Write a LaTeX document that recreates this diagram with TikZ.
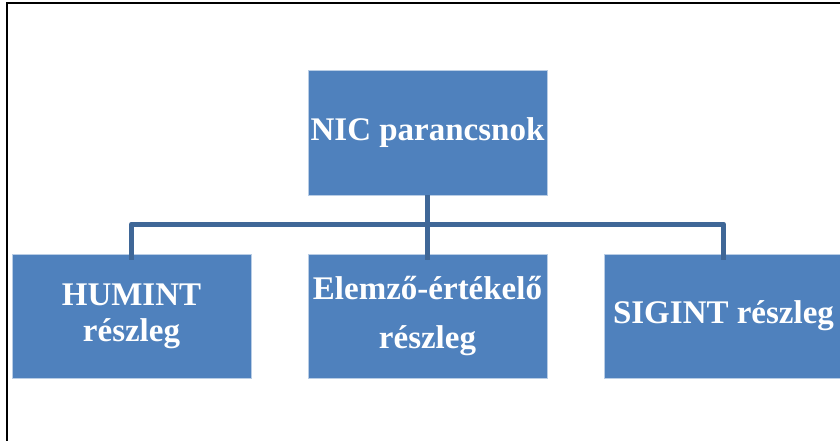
\documentclass[tikz,border=0pt]{standalone}
\usepackage{fontspec}
\setmainfont{Liberation Serif}
\definecolor{boxblue}{HTML}{4F81BD}
\definecolor{linkblue}{HTML}{3F6797}
\begin{document}
\begin{tikzpicture}[x=1pt,y=-1pt,
  unit/.style={fill=boxblue, draw=boxblue!40!white, line width=0.6pt,
    minimum width=239pt, minimum height=124pt, inner sep=0pt,
    text=white, font=\fontsize{33}{37}\selectfont\bfseries, align=center},
  link/.style={draw=linkblue, line width=5pt, line join=round, line cap=butt}]
  \useasboundingbox (0,0) rectangle (840,441);
  % outer frame (right and bottom edges lie beyond the page)
  \draw[line width=2pt] (7,445) -- (7,3) -- (845,3);

  \node[unit, minimum height=125pt] (nic) at (427.5,132.5) {NIC parancsnok};
  \node[unit] (humint) at (131.5,316) {HUMINT\\[-1pt]részleg};
  \node[unit] (elemzo) at (427.5,316) {Elemző-értékelő\\[12pt]részleg};
  \node[unit] (sigint) at (723.5,316) {SIGINT részleg};

  \coordinate (bus) at (427.5,224);
  \draw[link] (nic.south) -- ([yshift=-6pt]elemzo.north);
  \draw[link] ([yshift=-6pt]humint.north) |- (bus) -| ([yshift=-6pt]sigint.north);
\end{tikzpicture}
\end{document}
